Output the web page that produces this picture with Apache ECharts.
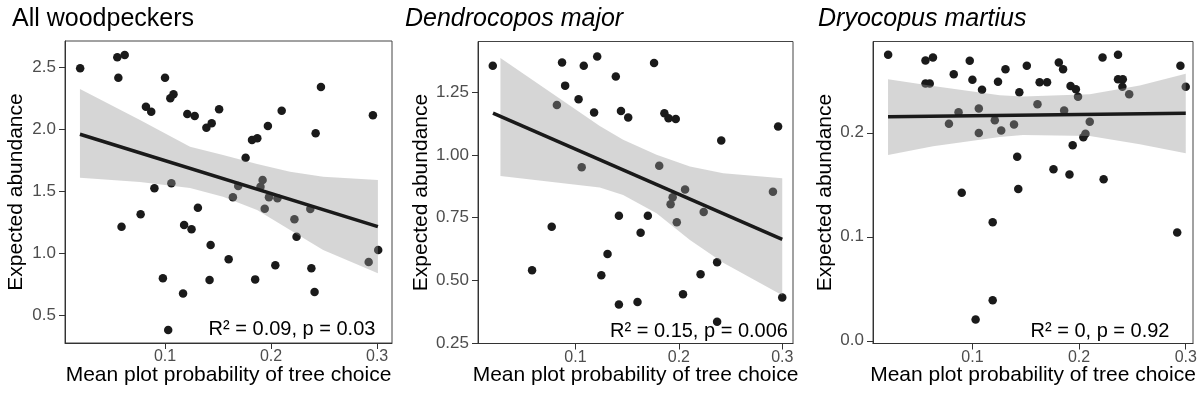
<!DOCTYPE html>
<html><head><meta charset="utf-8">
<script src="https://cdn.jsdelivr.net/npm/echarts@6/dist/echarts.min.js"></script>
<style>html,body{margin:0;padding:0;background:#fff}#c{width:1201px;height:401px}</style>
</head><body><div id="c"></div>
<script>
// ---------- data ----------
const panelTitles = ['All woodpeckers', 'Dendrocopos major', 'Dryocopus martius'];
const titleItalic = [false, true, true];
const yAxisTitle = 'Expected abundance';
const xAxisTitle = 'Mean plot probability of tree choice';
const statLabels = ['R\u00b2 = 0.09, p = 0.03', 'R\u00b2 = 0.15, p = 0.006', 'R\u00b2 = 0, p = 0.92'];

const xTicks = [0.1, 0.2, 0.3];
const yTicks1 = [0.5, 1.0, 1.5, 2.0, 2.5];
const yTicks2 = [0.25, 0.50, 0.75, 1.00, 1.25];
const yTicks3 = [0.0, 0.1, 0.2];

// All woodpeckers
const allX = [0.020,0.055,0.062,0.056,0.100,0.108,0.105,0.082,0.087,0.121,0.128,0.151,0.139,0.144,0.210,0.197,0.182,0.187,0.176,0.247,0.242,0.296,0.192,0.106,0.090,0.169,0.190,0.164,0.198,0.206,0.194,0.237,0.222,0.224,0.301,0.292,0.131,0.125,0.118,0.143,0.160,0.142,0.185,0.204,0.238,0.241,0.059,0.077,0.098,0.117,0.103];
const allY = [2.495,2.584,2.602,2.419,2.419,2.285,2.253,2.185,2.145,2.127,2.110,2.164,2.016,2.052,2.153,2.030,1.917,1.930,1.774,2.344,1.971,2.116,1.594,1.568,1.527,1.546,1.540,1.455,1.455,1.447,1.363,1.360,1.277,1.137,1.030,0.933,1.370,1.197,1.231,1.070,0.955,0.788,0.793,0.906,0.882,0.691,1.218,1.318,0.802,0.680,0.385];
const allFitX = [0.0198, 0.3007];
const allFitY = [1.963, 1.218];
const allBandX = [0.0198,0.0764,0.1236,0.1547,0.1868,0.2179,0.2491,0.3007];
const allBandUp = [2.328,2.078,1.863,1.796,1.723,1.661,1.621,1.594];
const allBandLo = [1.613,1.578,1.530,1.460,1.352,1.191,1.030,0.842];

// Dendrocopos major
const dmX = [0.020,0.087,0.108,0.121,0.090,0.103,0.118,0.082,0.106,0.176,0.139,0.144,0.151,0.186,0.190,0.197,0.241,0.296,0.181,0.206,0.291,0.194,0.192,0.224,0.198,0.142,0.170,0.163,0.131,0.125,0.237,0.221,0.204,0.142,0.160,0.237,0.300,0.058,0.077];
const dmY = [1.355,1.368,1.355,1.392,1.276,1.222,1.169,1.199,0.950,1.366,1.312,1.175,1.149,1.166,1.146,1.143,1.057,1.113,0.956,0.862,0.853,0.831,0.803,0.772,0.731,0.757,0.757,0.689,0.604,0.520,0.572,0.524,0.444,0.403,0.413,0.334,0.431,0.540,0.713];
const dmFitX = [0.0202, 0.300];
const dmFitY = [1.166, 0.663];
const dmBandX = [0.0274,0.1235,0.1461,0.1784,0.2107,0.2429,0.300];
const dmBandUp = [1.386,1.115,1.060,1.000,0.953,0.927,0.907];
const dmBandLo = [0.916,0.870,0.840,0.767,0.660,0.570,0.440];

// Dryocopus martius
const dyX = [0.021,0.056,0.063,0.0975,0.0825,0.100,0.109,0.124,0.056,0.060,0.087,0.106,0.078,0.106,0.121,0.127,0.131,0.151,0.144,0.163,0.170,0.181,0.185,0.192,0.197,0.199,0.222,0.2365,0.2365,0.241,0.2406,0.247,0.295,0.300,0.161,0.186,0.139,0.210,0.206,0.204,0.194,0.142,0.176,0.191,0.223,0.143,0.119,0.292,0.119,0.090,0.103];
const dyY = [0.2750,0.2695,0.2724,0.2692,0.2564,0.2510,0.2413,0.2490,0.2473,0.2473,0.2198,0.2234,0.2086,0.1999,0.2121,0.2022,0.2612,0.2644,0.2391,0.2486,0.2486,0.2676,0.2612,0.2451,0.2419,0.2347,0.2724,0.2750,0.2515,0.2515,0.2444,0.2371,0.2644,0.2444,0.2275,0.2214,0.2079,0.2106,0.1990,0.1958,0.1881,0.1770,0.1650,0.1600,0.1554,0.1460,0.1139,0.1042,0.0390,0.1424,0.0205];
const dyFitX = [0.0209, 0.300];
const dyFitY = [0.2154, 0.2188];
const dyBandX = [0.0209,0.0631,0.1256,0.1474,0.2100,0.2569,0.300];
const dyBandUp = [0.2515,0.2450,0.2360,0.2350,0.2370,0.2455,0.2567];
const dyBandLo = [0.1787,0.1870,0.1960,0.1980,0.1970,0.1890,0.1803];

// ---------- layout (pixels) ----------
const grids = [
  {left: 65, top: 41, width: 327, height: 302},
  {left: 478, top: 41.5, width: 315, height: 302},
  {left: 873, top: 41.5, width: 320, height: 302}
];
const xRanges = [[0.0057, 0.314], [0.0057, 0.3104], [0.0068, 0.3068]];
const yRanges = [[0.28, 2.715], [0.2475, 1.452], [-0.0026, 0.2878]];
const yTickSets = [yTicks1, yTicks2, yTicks3];
const yDecimals = [1, 2, 1];
const yTitleX = [16.5, 421, 825];
const statPos = [[292, 329], [699, 331], [1100, 331]];
const titleX = [12, 405, 818];

const panels = [
  {x: allX, y: allY, fx: allFitX, fy: allFitY, bx: allBandX, bu: allBandUp, bl: allBandLo},
  {x: dmX, y: dmY, fx: dmFitX, fy: dmFitY, bx: dmBandX, bu: dmBandUp, bl: dmBandLo},
  {x: dyX, y: dyY, fx: dyFitX, fy: dyFitY, bx: dyBandX, bu: dyBandUp, bl: dyBandLo}
];

const FONT = '"Liberation Sans", Arial, Helvetica, sans-serif';
const tickColor = '#4d4d4d';
const lineColor = '#333333';

const xAxes = [], yAxes = [], series = [], graphics = [];
panels.forEach((p, i) => {
  xAxes.push({
    type: 'value', gridIndex: i, min: xRanges[i][0], max: xRanges[i][1],
    splitLine: {show: false},
    axisLine: {show: true, onZero: false, lineStyle: {color: lineColor, width: 1}},
    axisTick: {show: true, customValues: xTicks, length: 6, lineStyle: {color: lineColor}},
    axisLabel: {customValues: xTicks, color: tickColor, fontSize: 16, fontFamily: FONT, margin: 6,
      formatter: v => v.toFixed(1)}
  });
  yAxes.push({
    type: 'value', gridIndex: i, min: yRanges[i][0], max: yRanges[i][1],
    splitLine: {show: false},
    axisLine: {show: true, onZero: false, lineStyle: {color: lineColor, width: 1}},
    axisTick: {show: true, customValues: yTickSets[i], length: 6, lineStyle: {color: lineColor}},
    axisLabel: {customValues: yTickSets[i], color: tickColor, fontSize: 17, fontFamily: FONT, margin: 9,
      formatter: v => v.toFixed(yDecimals[i])}
  });
  series.push({
    type: 'scatter', xAxisIndex: i, yAxisIndex: i, z: 1,
    symbolSize: 8.5, itemStyle: {color: '#1a1a1a', opacity: 1},
    data: p.x.map((v, k) => [v, p.y[k]])
  });
  series.push({
    type: 'custom', xAxisIndex: i, yAxisIndex: i, z: 2, silent: true,
    data: [[p.bx[0], p.bu[0]]],
    renderItem: (params, api) => {
      const pts = [];
      p.bx.forEach((bx, k) => pts.push(api.coord([bx, p.bu[k]])));
      for (let k = p.bx.length - 1; k >= 0; k--) pts.push(api.coord([p.bx[k], p.bl[k]]));
      return {type: 'polygon', shape: {points: pts}, style: {fill: 'rgba(153,153,153,0.4)', stroke: null}};
    }
  });
  series.push({
    type: 'line', xAxisIndex: i, yAxisIndex: i, z: 3, symbol: 'none',
    lineStyle: {color: '#1a1a1a', width: 3.5},
    data: p.fx.map((v, k) => [v, p.fy[k]])
  });

  const g = grids[i];
  graphics.push({
    type: 'text', x: titleX[i], y: 19,
    style: {text: panelTitles[i], font: (titleItalic[i] ? 'italic ' : '') + '25px ' + FONT, fill: '#000',
      textAlign: 'left', textVerticalAlign: 'middle'}
  });
  graphics.push({
    type: 'text', x: yTitleX[i], y: g.top + g.height / 2, rotation: Math.PI / 2,
    style: {text: yAxisTitle, font: '21px ' + FONT, fill: '#000', textAlign: 'center', textVerticalAlign: 'middle'}
  });
  graphics.push({
    type: 'text', x: g.left + g.width / 2, y: 375,
    style: {text: xAxisTitle, font: '21px ' + FONT, fill: '#000', textAlign: 'center', textVerticalAlign: 'middle'}
  });
  graphics.push({
    type: 'text', x: statPos[i][0], y: statPos[i][1], z: 10,
    style: {text: statLabels[i], font: '20px ' + FONT, fill: '#000', textAlign: 'center', textVerticalAlign: 'middle'}
  });
});

const chart = echarts.init(document.getElementById('c'), null, {renderer: 'canvas'});
chart.setOption({
  animation: false,
  backgroundColor: '#fff',
  grid: grids.map(g => Object.assign({show: true, borderColor: '#444', borderWidth: 1, backgroundColor: 'transparent'}, g)),
  xAxis: xAxes,
  yAxis: yAxes,
  series: series,
  graphic: graphics
});
</script>
</body></html>
